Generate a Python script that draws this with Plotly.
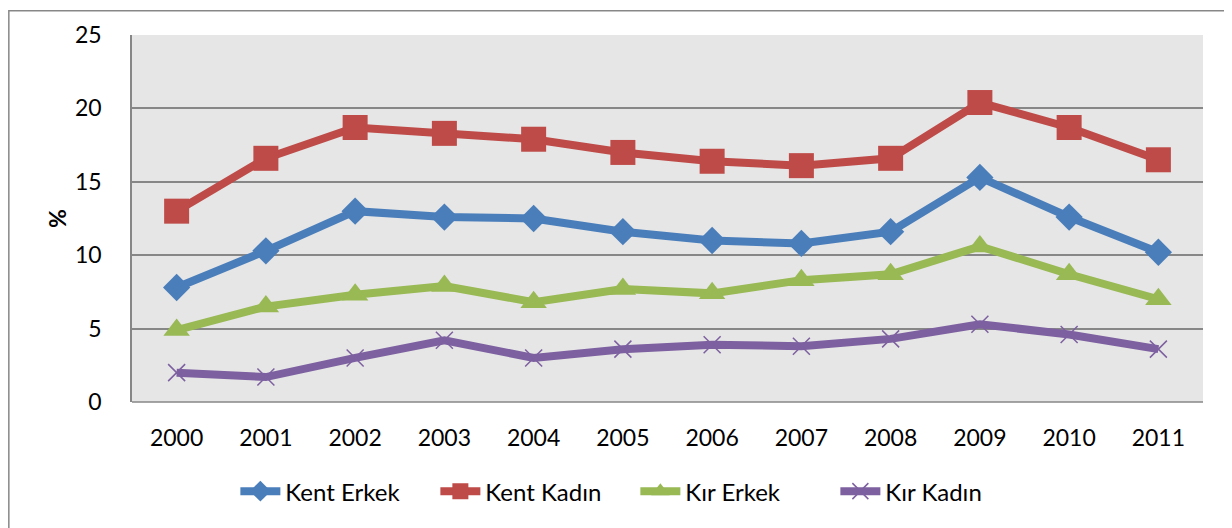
import plotly.graph_objects as go

years = ["2000", "2001", "2002", "2003", "2004", "2005", "2006", "2007", "2008", "2009", "2010", "2011"]
kent_erkek = [7.8, 10.3, 13.0, 12.6, 12.5, 11.6, 11.0, 10.8, 11.6, 15.3, 12.6, 10.2]
kent_kadin = [13.0, 16.6, 18.7, 18.3, 17.9, 17.0, 16.4, 16.1, 16.6, 20.4, 18.7, 16.5]
kir_erkek = [4.9, 6.5, 7.3, 7.9, 6.8, 7.7, 7.4, 8.3, 8.7, 10.6, 8.7, 7.0]
kir_kadin = [2.0, 1.7, 3.0, 4.2, 3.0, 3.6, 3.9, 3.8, 4.3, 5.3, 4.6, 3.6]
y_ticks = [0, 5, 10, 15, 20, 25]

series = [
    ("Kent Erkek", kent_erkek, "#4A7EBB", dict(symbol="diamond", size=21)),
    ("Kent Kadın", kent_kadin, "#BE4B48", dict(symbol="square", size=25)),
    ("Kır Erkek", kir_erkek, "#98B954", dict(symbol="triangle-up", size=23)),
    ("Kır Kadın", kir_kadin, "#7D60A0", dict(symbol="x-thin", size=17)),
]

fig = go.Figure()
for name, vals, color, mk in series:
    marker = dict(color=color, **mk)
    if mk["symbol"] == "x-thin":
        marker["line"] = dict(color=color, width=1.5)
    else:
        marker["line"] = dict(width=0)
    fig.add_trace(go.Scatter(
        x=years, y=vals, name=name, mode="lines+markers",
        line=dict(color=color, width=8), marker=marker,
    ))

FONT = "Lato, 'Open Sans', sans-serif"
# page body has an 8px margin; figure is sized/offset to compensate
fig.update_layout(
    width=1224, height=520,
    margin=dict(l=124, r=29, t=25, b=126),
    paper_bgcolor="white",
    plot_bgcolor="#E6E6E6",
    font=dict(family=FONT, size=23, color="black"),
    showlegend=True,
    legend=dict(
        orientation="h", x=0.47, xanchor="center", y=-0.244, yanchor="middle",
        font=dict(family=FONT, size=24, color="black"),
        itemwidth=40, entrywidth=145, tracegroupgap=0, bgcolor="rgba(0,0,0,0)",
    ),
    xaxis=dict(
        type="category", range=[-0.5, 11.5], showgrid=False, zeroline=False,
        showline=False, ticks="", ticklabelstandoff=20,
        tickfont=dict(family=FONT, size=23),
    ),
    yaxis=dict(
        range=[0, 25], tickvals=y_ticks, showgrid=True, gridcolor="#878787",
        gridwidth=1.5, zeroline=False, showline=True, linecolor="#878787",
        linewidth=1.5, ticks="", ticklabelstandoff=24,
        tickfont=dict(family=FONT, size=23),
        title=dict(text="<b>%</b>", font=dict(family=FONT, size=23), standoff=2),
    ),
    shapes=[
        dict(type="rect", xref="paper", yref="paper",
             x0=-0.1150, x1=1.0224, y0=-0.35, y1=1.0660,
             line=dict(color="#878787", width=1.5), layer="below"),
        dict(type="line", xref="paper", yref="paper", x0=0, x1=1, y0=0, y1=0,
             line=dict(color="#878787", width=1.5), layer="below"),
    ],
)

fig.write_html("out.html")
